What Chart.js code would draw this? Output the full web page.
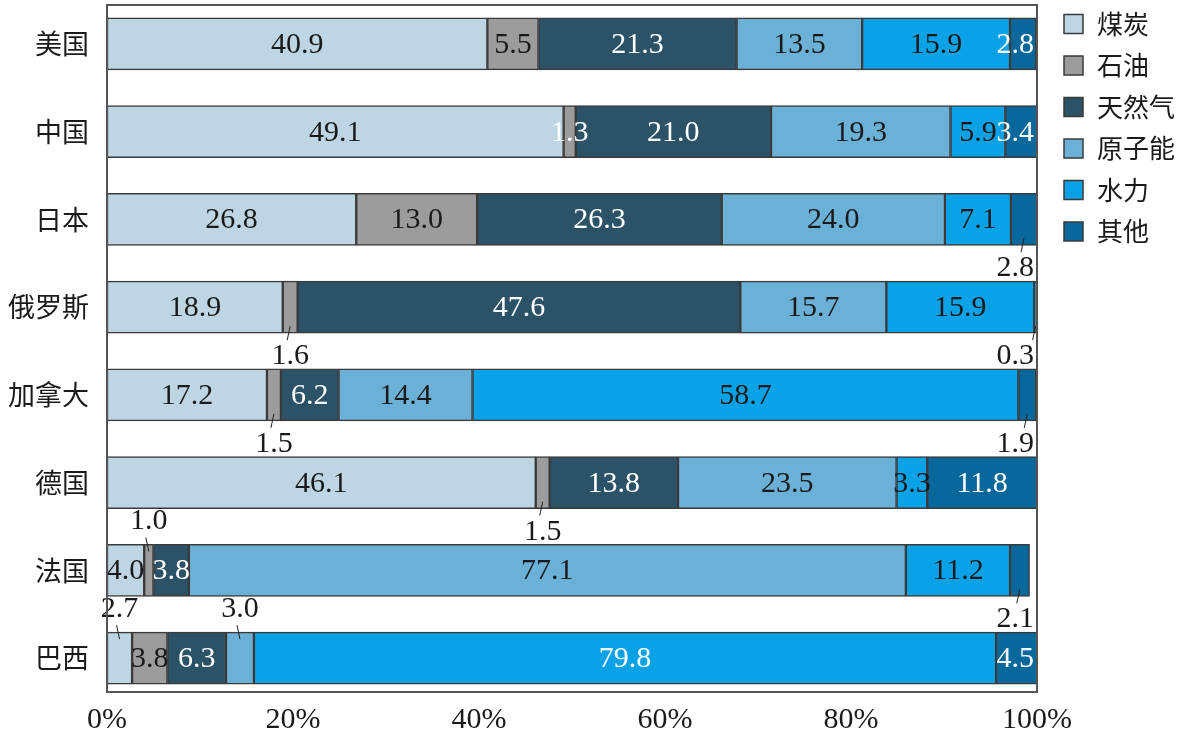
<!DOCTYPE html>
<html>
<head>
<meta charset="utf-8">
<script src="https://cdn.jsdelivr.net/npm/chart.js@4.4.0/dist/chart.umd.min.js"></script>
<style>html,body{margin:0;padding:0;background:#fff}</style>
</head>
<body>
<canvas id="energyChart" width="1186" height="734"></canvas>
<script>
"use strict";

var countries = ['美国', '中国', '日本', '俄罗斯', '加拿大', '德国', '法国', '巴西'];
var sources   = ['煤炭', '石油', '天然气', '原子能', '水力', '其他'];
var coal      = [40.9, 49.1, 26.8, 18.9, 17.2, 46.1, 4.0, 2.7];
var oil       = [5.5, 1.3, 13.0, 1.6, 1.5, 1.5, 1.0, 3.8];
var gas       = [21.3, 21.0, 26.3, 47.6, 6.2, 13.8, 3.8, 6.3];
var nuclear   = [13.5, 19.3, 24.0, 15.7, 14.4, 23.5, 77.1, 3.0];
var hydro     = [15.9, 5.9, 7.1, 15.9, 58.7, 3.3, 11.2, 79.8];
var other     = [2.8, 3.4, 2.8, 0.3, 1.9, 11.8, 2.1, 4.5];
var xTicks    = [0, 20, 40, 60, 80, 100];

(function() {
  var fills    = ['#bed6e4', '#9c9c9c', '#2b5266', '#6bb0d6', '#0aa2e6', '#08689c'];
  var textCols = ['#1a1a1a', '#1a1a1a', '#ffffff', '#1a1a1a', '#1a1a1a', '#ffffff'];
  var textOverride = { '中国|石油': '#ffffff', '巴西|水力': '#ffffff' };
  // small segments whose value sits outside the bar, with a leader tick
  var outside = {
    '日本|其他': 'below', '俄罗斯|石油': 'below', '俄罗斯|其他': 'below',
    '加拿大|石油': 'below', '加拿大|其他': 'below', '德国|石油': 'below',
    '法国|石油': 'above', '法国|其他': 'below', '巴西|煤炭': 'above', '巴西|原子能': 'above'
  };
  var serif = "'Liberation Serif', 'DejaVu Serif', serif";
  var cjk   = "'Noto Sans CJK SC', sans-serif";
  var edge  = '#3a3a3a';

  var series = [coal, oil, gas, nuclear, hydro, other];
  var datasets = series.map(function(vals, i) {
    return {
      label: sources[i],
      data: vals,
      backgroundColor: fills[i],
      borderColor: edge,
      borderWidth: 1.5,
      borderSkipped: false,
      barThickness: 52
    };
  });

  // plot frame sits a little inside the category band (top 5px, bottom 692px)
  var framePlugin = {
    id: 'frame',
    afterDraw: function(chart) {
      var a = chart.chartArea, ctx = chart.ctx;
      ctx.save();
      ctx.strokeStyle = '#555';
      ctx.lineWidth = 2;
      ctx.strokeRect(a.left, a.top + 5, a.right - a.left, a.bottom - 10 - (a.top + 5));
      ctx.restore();
    }
  };

  var valuePlugin = {
    id: 'values',
    afterDatasetsDraw: function(chart) {
      var ctx = chart.ctx, a = chart.chartArea;
      ctx.save();
      ctx.font = '30px ' + serif;
      ctx.textAlign = 'center';
      ctx.textBaseline = 'middle';
      chart.data.datasets.forEach(function(ds, i) {
        chart.getDatasetMeta(i).data.forEach(function(bar, j) {
          var key = countries[j] + '|' + sources[i];
          var txt = ds.data[j].toFixed(1);
          var w = ctx.measureText(txt).width;
          var cx = (bar.x + bar.base) / 2;
          var tx = Math.min(cx, a.right - 3 - w / 2);
          var half = bar.height / 2;
          var place = outside[key];
          if (place) {
            var sgn = place === 'below' ? 1 : -1;
            var edgeY = bar.y + sgn * half;
            ctx.strokeStyle = '#222';
            ctx.lineWidth = 1;
            ctx.beginPath();
            ctx.moveTo(cx, edgeY - sgn * 7);
            ctx.lineTo(cx - 3, edgeY + sgn * 7);
            ctx.stroke();
            ctx.fillStyle = '#1a1a1a';
            ctx.fillText(txt, tx, edgeY + sgn * 23);
          } else {
            ctx.fillStyle = textOverride[key] || textCols[i];
            ctx.fillText(txt, tx, bar.y + 1);
          }
        });
      });
      ctx.restore();
    }
  };

  var legendPlugin = {
    id: 'sideLegend',
    afterDraw: function(chart) {
      var ctx = chart.ctx;
      ctx.save();
      ctx.font = '26px ' + cjk;
      ctx.textBaseline = 'middle';
      ctx.textAlign = 'left';
      chart.data.datasets.forEach(function(ds, i) {
        var y = 24 + i * 41.5;
        ctx.fillStyle = ds.backgroundColor;
        ctx.fillRect(1064, y - 9.5, 19, 19);
        ctx.strokeStyle = edge;
        ctx.lineWidth = 1.5;
        ctx.strokeRect(1064, y - 9.5, 19, 19);
        ctx.fillStyle = '#1a1a1a';
        ctx.fillText(ds.label, 1097, y);
      });
      ctx.restore();
    }
  };

  new Chart(document.getElementById('energyChart'), {
    type: 'bar',
    data: { labels: countries, datasets: datasets },
    options: {
      indexAxis: 'y',
      responsive: false,
      animation: false,
      layout: { padding: { top: -3, right: 149, left: 0, bottom: 0 } },
      plugins: { legend: { display: false }, tooltip: { enabled: false } },
      scales: {
        x: {
          stacked: true,
          min: 0,
          max: 100,
          afterBuildTicks: function(scale) { scale.ticks = xTicks.map(function(v) { return { value: v }; }); },
          afterFit: function(scale) { scale.height = 32; },
          grid: { display: false, drawTicks: false },
          border: { display: false },
          ticks: { color: '#1a1a1a', padding: 0, font: { family: serif, size: 30 },
                   callback: function(v) { return v + '%'; } }
        },
        y: {
          stacked: true,
          afterFit: function(scale) {
            scale.width = 107;
            scale.paddingTop = 0;
            scale.paddingBottom = 0;
          },
          grid: { display: false, drawTicks: false },
          border: { display: false },
          ticks: { color: '#1a1a1a', padding: 18, font: { family: cjk, size: 27 } }
        }
      }
    },
    plugins: [framePlugin, valuePlugin, legendPlugin]
  });
})();
</script>
</body>
</html>
